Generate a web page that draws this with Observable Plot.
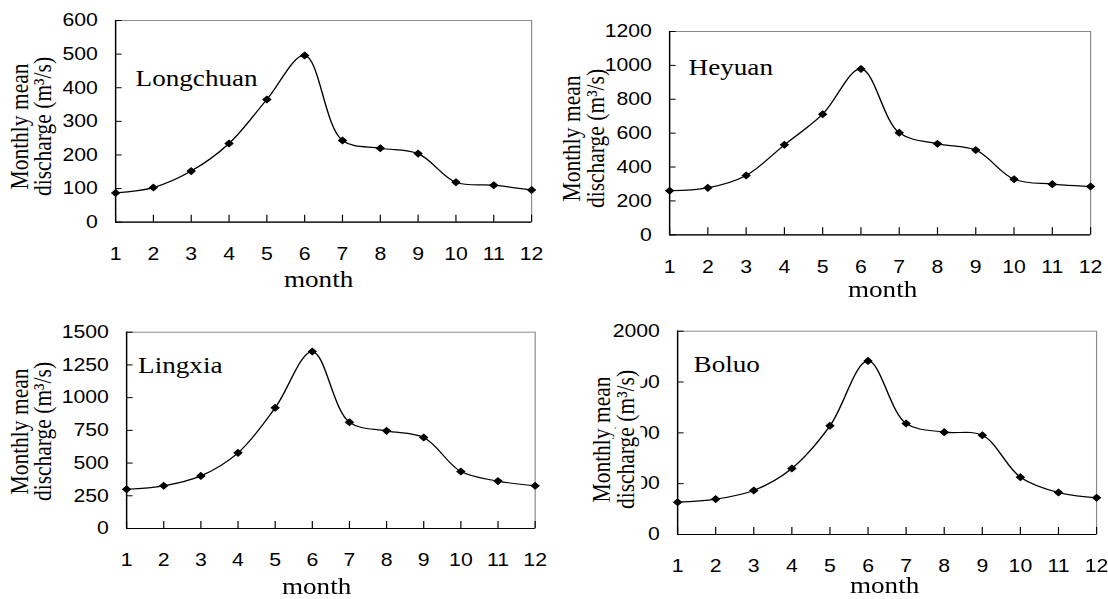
<!DOCTYPE html>
<html>
<head>
<meta charset="utf-8">
<script src="https://cdn.jsdelivr.net/npm/d3@7"></script>
<script src="https://cdn.jsdelivr.net/npm/@observablehq/plot@0.6"></script>
<style>
  html, body { margin: 0; padding: 0; background: #fff; }
  #page { position: relative; width: 1108px; height: 599px; overflow: hidden; background: #fff; }
  .panel { position: absolute; transform-origin: 0 0; }
  .panel svg { overflow: visible; display: block; }
</style>
</head>
<body>
<div id="page"></div>
<script>
// Monthly mean discharge (m³/s) at four gauging stations
const months = [1, 2, 3, 4, 5, 6, 7, 8, 9, 10, 11, 12];
const longchuan = [87, 103, 152, 234, 365, 496, 243, 220, 204, 119, 110, 96];
const heyuan = [260, 277, 350, 531, 712, 979, 602, 537, 500, 328, 299, 285];
const lingxia = [300, 326, 402, 578, 922, 1352, 812, 746, 695, 435, 362, 326];
const boluo = [318, 348, 433, 649, 1069, 1708, 1092, 1007, 977, 564, 413, 361];

const stations = ["Longchuan", "Heyuan", "Lingxia", "Boluo"];
const series = [longchuan, heyuan, lingxia, boluo];
const yMax = [600, 1200, 1500, 2000];
const yStep = [100, 200, 250, 500];
const xLabel = "month";
const yLabel = "Monthly mean\ndischarge (m³/s)";

// The figure is horizontally widened: each panel is drawn narrow, then stretched.
const K = 1.18;
const SANS = "Liberation Sans, Arial, sans-serif";
const SERIF = "Liberation Serif, Times New Roman, serif";

// Page-space layout of each panel: box origin, plot frame, label anchors
const layouts = [
  {left: 0,   top: 0,   l: 115, r: 531,   t: 20,    b: 221.7, tx: 135,   tb: 85,    yx: 31.3,  ycy: 126, xcx: 318, xcy: 279, halo: false},
  {left: 554, top: 0,   l: 669, r: 1090,  t: 31,    b: 234.3, tx: 688,   tb: 74,    yx: 584,   ycy: 138, xcx: 882, xcy: 289, halo: false},
  {left: 0,   top: 300, l: 126, r: 534.6, t: 331.7, b: 528,   tx: 137.5, tb: 372.7, yx: 31.3,  ycy: 431, xcx: 316, xcy: 586, halo: false},
  {left: 554, top: 300, l: 677, r: 1096,  t: 330.7, b: 534,   tx: 693,   tb: 371.7, yx: 613.5, ycy: 439, xcx: 884, xcy: 585, halo: true}
];

const page = document.getElementById("page");

stations.forEach((name, i) => {
  const L = layouts[i];
  const W = 554, H = L.top ? 299 : 300;
  const data = months.map((m, j) => ({month: m, value: series[i][j]}));
  const yTicks = d3.range(0, yMax[i] + 1, yStep[i]);
  const halo = L.halo ? {stroke: "white", strokeWidth: 12, paintOrder: "stroke"} : {};

  const chart = Plot.plot({
    width: W / K,
    height: H,
    marginLeft: (L.l - L.left) / K,
    marginRight: (L.left + W - L.r) / K,
    marginTop: L.t - L.top,
    marginBottom: L.top + H - L.b,
    style: {fontFamily: SANS, fontSize: "18px", color: "black", background: "white", overflow: "visible"},
    x: {type: "linear", domain: [1, 12], label: null},
    y: {domain: [0, yMax[i]], label: null},
    marks: [
      Plot.frame({stroke: "#8a8a8a"}),
      // inward tick marks
      Plot.axisX({ticks: months, tickSize: -7, tickFormat: () => "", label: null}),
      Plot.axisY({ticks: yTicks, tickSize: -5.6, tickFormat: () => "", label: null}),
      // tick labels
      Plot.axisX({ticks: months, tickSize: 0, tickPadding: 25, tickFormat: d => String(d), label: null, fontSize: 18}),
      Plot.axisY({ticks: yTicks, tickSize: 0, tickPadding: 15, tickFormat: d => String(d), label: null, fontSize: 18}),
      // axis lines
      Plot.ruleY([0], {stroke: "black", strokeWidth: 1.2}),
      Plot.ruleX([1], {stroke: "black", strokeWidth: 1.2}),
      // smoothed series line with diamond markers
      Plot.line(data, {x: "month", y: "value", curve: "catmull-rom", stroke: "black", strokeWidth: 1.2}),
      Plot.dot(data, {x: "month", y: "value", symbol: "diamond2", r: 3, fill: "black", stroke: "black", strokeWidth: 1}),
      // station name
      Plot.text([name], {
        frameAnchor: "top-left", textAnchor: "start", lineAnchor: "middle",
        dx: (L.tx - L.l) / K, dy: (L.tb - 0.32 * 23) - L.t,
        fontFamily: SERIF, fontSize: 23, fill: "black"
      }),
      // y-axis title (two lines, rotated)
      Plot.text([yLabel], {
        frameAnchor: "left", rotate: -90, textAnchor: "middle", lineAnchor: "middle", lineHeight: 0.94,
        dx: (L.yx - L.l) / K, dy: L.ycy - (L.t + L.b) / 2,
        fontFamily: SERIF, fontSize: 21.5, fill: "black", ...halo
      }),
      // x-axis title
      Plot.text([xLabel], {
        frameAnchor: "bottom", textAnchor: "middle", lineAnchor: "middle",
        dx: (L.xcx - (L.l + L.r) / 2) / K, dy: L.xcy - L.b,
        fontFamily: SERIF, fontSize: 23, fill: "black",
        ...(L.halo ? {stroke: "white", strokeWidth: 4, paintOrder: "stroke"} : {})
      })
    ]
  });

  const box = document.createElement("div");
  box.className = "panel";
  box.style.left = L.left + "px";
  box.style.top = L.top + "px";
  box.style.transform = `scaleX(${K})`;
  box.appendChild(chart);
  page.appendChild(box);
});
</script>
</body>
</html>
